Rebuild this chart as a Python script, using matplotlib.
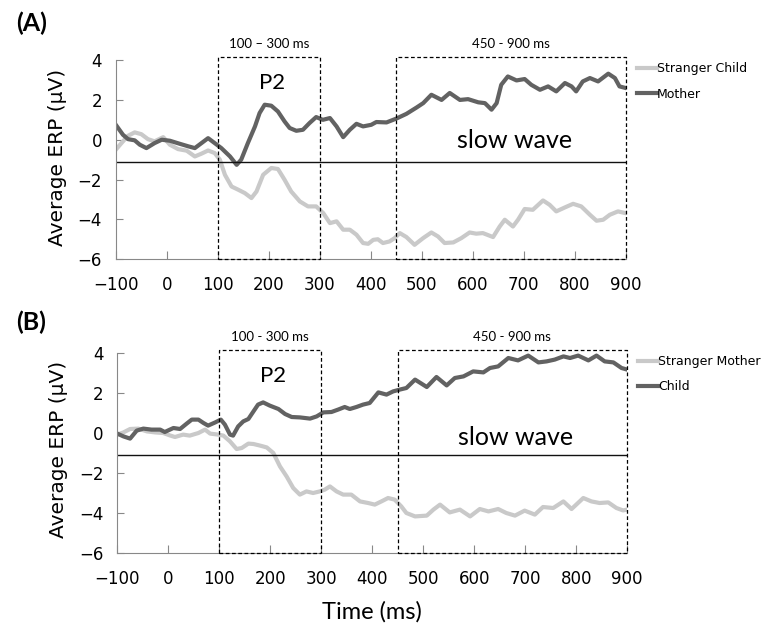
import numpy as np
import matplotlib as mpl
import matplotlib.pyplot as plt
from matplotlib.patches import Rectangle

# ---- data (time in ms, amplitude in uV) ----
# panel A
t_a_child = [-100, -89, -76, -63, -50, -37, -24, -7, 6, 22, 39, 55, 68, 81, 94, 104, 114, 127,
             140, 153, 166, 176, 189, 205, 218, 231, 244, 261, 277, 293, 307, 320, 333, 346, 359,
             372, 385, 395, 405, 414, 424, 437, 447, 457, 470, 486, 503, 519, 532, 545, 562, 578,
             594, 607, 620, 640, 653, 663, 679, 689, 702, 718, 738, 751, 764, 781, 797, 813, 830,
             843, 856, 869, 885, 900]
v_a_child = [-0.5, -0.17, 0.2, 0.37, 0.28, 0.03, -0.08, 0.13, -0.25, -0.47, -0.55, -0.84, -0.7,
             -0.54, -0.67, -1.0, -1.76, -2.35, -2.51, -2.68, -2.93, -2.6, -1.76, -1.42, -1.47,
             -2.01, -2.6, -3.1, -3.35, -3.35, -3.69, -4.19, -4.1, -4.52, -4.52, -4.77, -5.19,
             -5.23, -5.03, -5.0, -5.19, -5.11, -4.94, -4.69, -4.89, -5.28, -4.94, -4.66, -4.86,
             -5.19, -5.16, -4.94, -4.66, -4.72, -4.69, -4.89, -4.36, -4.02, -4.36, -4.02, -3.48,
             -3.52, -3.05, -3.27, -3.6, -3.4, -3.22, -3.35, -3.77, -4.07, -4.02, -3.77, -3.6,
             -3.69]

t_a_mother = [-100, -86, -76, -63, -53, -40, -24, -10, 6, 25, 42, 55, 68, 81, 94, 107, 124, 137,
              146, 159, 173, 182, 192, 205, 218, 231, 241, 254, 267, 280, 293, 306, 320, 333,
              346, 359, 372, 385, 401, 411, 431, 450, 470, 490, 503, 519, 539, 555, 575, 591,
              611, 624, 637, 647, 656, 669, 686, 702, 715, 732, 748, 764, 781, 794, 803, 816,
              830, 846, 866, 879, 888, 900]
v_a_mother = [0.75, 0.25, 0.03, -0.03, -0.25, -0.42, -0.17, 0.0, -0.05, -0.2, -0.33, -0.42,
              -0.17, 0.08, -0.17, -0.42, -0.84, -1.26, -1.0, -0.17, 0.67, 1.34, 1.76, 1.71, 1.42,
              0.92, 0.59, 0.45, 0.5, 0.84, 1.14, 1.0, 1.09, 0.67, 0.13, 0.5, 0.8, 0.67, 0.75,
              0.89, 0.87, 1.06, 1.3, 1.62, 1.84, 2.26, 2.0, 2.35, 2.0, 2.04, 1.88, 1.84, 1.51,
              1.84, 2.76, 3.18, 2.98, 3.05, 2.76, 2.51, 2.68, 2.43, 2.85, 2.68, 2.43, 2.93, 3.1,
              2.93, 3.32, 3.1, 2.68, 2.6]

# panel B
t_b_mother = [-100, -88, -75, -59, -42, -26, -10, 3, 13, 29, 42, 59, 72, 82, 98, 108, 121, 134,
              144, 157, 167, 180, 193, 206, 219, 232, 245, 258, 271, 284, 297, 307, 317, 330,
              343, 359, 376, 392, 405, 418, 431, 444, 457, 467, 484, 507, 520, 533, 552, 572,
              592, 611, 628, 647, 663, 680, 699, 719, 735, 755, 775, 791, 814, 830, 846, 863,
              879, 892, 900]
v_b_mother = [-0.08, 0.03, 0.2, 0.22, 0.08, 0.03, 0.0, -0.12, -0.2, -0.08, -0.13, 0.0, 0.17,
              -0.03, -0.08, -0.13, -0.42, -0.8, -0.75, -0.53, -0.55, -0.63, -0.72, -1.0, -1.67,
              -2.17, -2.75, -3.08, -2.92, -3.0, -2.92, -2.83, -2.67, -2.92, -3.08, -3.08, -3.42,
              -3.5, -3.58, -3.42, -3.25, -3.33, -3.67, -4.0, -4.17, -4.13, -3.83, -3.58, -3.97,
              -3.83, -4.17, -3.8, -3.92, -3.8, -4.0, -4.13, -3.88, -4.08, -3.7, -3.75, -3.42,
              -3.8, -3.25, -3.42, -3.5, -3.47, -3.75, -3.87, -3.83]

t_b_child = [-100, -88, -75, -62, -49, -33, -16, -7, 10, 23, 36, 46, 59, 69, 78, 92, 103, 111,
             121, 127, 137, 147, 157, 167, 176, 186, 199, 216, 229, 242, 258, 278, 291, 304, 320,
             333, 346, 356, 369, 382, 395, 412, 428, 441, 454, 467, 484, 507, 526, 546, 562, 579,
             598, 618, 631, 647, 667, 686, 706, 726, 742, 758, 775, 788, 804, 824, 840, 856, 873,
             889, 900]
v_b_child = [-0.03, -0.17, -0.28, 0.12, 0.22, 0.17, 0.17, 0.05, 0.25, 0.2, 0.47, 0.67, 0.67,
             0.5, 0.37, 0.53, 0.67, 0.42, -0.08, -0.13, 0.33, 0.58, 0.7, 1.08, 1.42, 1.53, 1.37,
             1.2, 0.95, 0.8, 0.78, 0.72, 0.83, 1.03, 1.05, 1.17, 1.3, 1.2, 1.3, 1.42, 1.5, 2.03,
             1.92, 2.08, 2.17, 2.25, 2.67, 2.3, 2.8, 2.38, 2.75, 2.83, 3.08, 3.03, 3.25, 3.33,
             3.75, 3.63, 3.87, 3.53, 3.58, 3.67, 3.83, 3.75, 3.87, 3.63, 3.87, 3.58, 3.53, 3.25,
             3.17]

x_ticks = list(range(-100, 1000, 100))
y_ticks = [-6, -4, -2, 0, 2, 4]
windows = [(100, 300), (450, 900)]
labels_a = ["100 \u2013 300 ms", "450 - 900 ms"]
labels_b = ["100 - 300 ms", "450 - 900 ms"]

LIGHT = "#c9c9c9"
DARK = "#626262"
CAL = "Lato"

fig = plt.figure(figsize=(7.62, 6.29), dpi=100)


def panel(rect, t1, v1, n1, t2, v2, n2, win_labels, letter, letter_y, ylab_y, sw_y):
    ax = fig.add_axes(rect)
    ax.plot(t1, v1, color=LIGHT, lw=3, label=n1, solid_joinstyle="round")
    ax.plot(t2, v2, color=DARK, lw=3, label=n2, solid_joinstyle="round")
    ax.axhline(-1.1, color="#111111", lw=1)

    for (a, b), lab in zip(windows, win_labels):
        ax.add_patch(Rectangle((a, -6), b - a, 10.17, fill=False, ls=(0, (3, 2)),
                               lw=0.9, color="black", clip_on=False, zorder=3))
        ax.text((a + b) / 2, 4.8, lab, ha="center", va="center", fontsize=9.5,
                family=CAL)
    ax.text(206, 2.85, "P2", ha="center", va="center", fontsize=16, family=CAL)
    ax.text(682, sw_y, "slow wave", ha="center", va="center", fontsize=18, family=CAL)

    ax.set_xlim(-100, 900)
    ax.set_ylim(-6, 4)
    ax.set_xticks(x_ticks)
    ax.set_yticks(y_ticks)
    ax.tick_params(direction="in", labelsize=12, colors="#888888", labelcolor="black")
    ax.tick_params(axis="x", length=6, pad=12)
    ax.tick_params(axis="y", length=5, pad=10)
    for s in ["top", "right"]:
        ax.spines[s].set_visible(False)
    for s in ["left", "bottom"]:
        ax.spines[s].set_color("#888888")
    ax.set_ylabel("Average ERP (\u00b5V)", fontsize=14.5)
    ax.yaxis.set_label_coords(-0.096, ylab_y)

    ax.legend(loc="upper left", bbox_to_anchor=(1.022, 0.99), frameon=False,
              fontsize=9, handlelength=1.6, handletextpad=0, labelspacing=1.0,
              borderpad=0, borderaxespad=0)
    fig.text(0.041, letter_y, letter, fontsize=18, fontweight="bold", family=CAL,
             ha="center", va="center")
    return ax


panel([0.152, 0.588, 0.669, 0.3164], t_a_child, v_a_child, "Stranger Child",
      t_a_mother, v_a_mother, "Mother", labels_a, "(A)", 0.963, 0.51, -0.05)
panel([0.154, 0.1208, 0.669, 0.318], t_b_mother, v_b_mother, "Stranger Mother",
      t_b_child, v_b_child, "Child", labels_b, "(B)", 0.488, 0.52, -0.2)

fig.text(0.488, 0.027, "Time (ms)", fontsize=17, family=CAL, ha="center", va="center")

fig.savefig("out.png", dpi=100)
